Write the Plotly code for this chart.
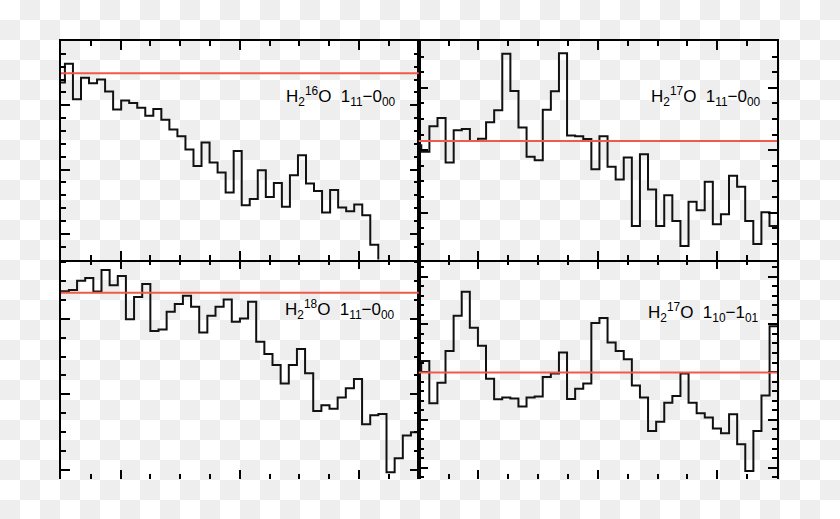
import numpy as np
import plotly.graph_objects as go
from plotly.subplots import make_subplots

# ---------------- data ----------------
# channel grids: first channel centre and channel width (km/s)
tl_v0, tl_dv = -30.019, 1.348
tr_v0, tr_dv = -30.242, 1.356
bl_v0, bl_dv = -30.722, 1.366
br_v0, br_dv = -30.259, 1.3567

# H2 16O 1_11-0_00 (top left)
tl_flux = [1.178, 1.323, 1.046, 1.214, 1.172, 1.201, 1.108, 0.968, 1.038, 1.017,
           0.981, 0.919, 0.971, 0.888, 0.811, 0.759, 0.655, 0.528, 0.710, 0.555,
           0.477, 0.322, 0.645, 0.223, 0.270, 0.495, 0.287, 0.396, 0.210, 0.456,
           0.611, 0.392, 0.332, 0.166, 0.340, 0.205, 0.176, 0.228, 0.145, -0.085,
           -0.35, -0.40, -0.38, -0.42, -0.45, -0.44]
# H2 17O 1_11-0_00 (top right)
tr_flux = [0.216, 0.195, 0.277, 0.303, 0.161, 0.264, 0.268, 0.230, 0.237, 0.290,
           0.328, 0.509, 0.390, 0.273, 0.179, 0.168, 0.330, 0.389, 0.511, 0.247,
           0.245, 0.236, 0.139, 0.245, 0.147, 0.106, 0.177, -0.043, 0.187, 0.074,
           -0.043, 0.056, -0.027, -0.107, 0.035, 0.008, 0.099, -0.037, -0.005, 0.118,
           0.083, -0.027, -0.100, 0.001, -0.043, -0.043]
# H2 18O 1_11-0_00 (bottom left)
bl_flux = [0.473, 0.473, 0.476, 0.501, 0.508, 0.472, 0.529, 0.489, 0.513, 0.399,
           0.458, 0.492, 0.368, 0.372, 0.419, 0.439, 0.461, 0.432, 0.364, 0.408,
           0.432, 0.451, 0.392, 0.401, 0.445, 0.339, 0.307, 0.278, 0.229, 0.278,
           0.320, 0.256, 0.156, 0.171, 0.162, 0.192, 0.216, 0.241, 0.121, 0.145,
           0.148, -0.006, 0.031, 0.091, 0.100, 0.100]
# H2 17O 1_10-1_01 (bottom right)
br_flux = [0.200, 0.223, 0.135, 0.178, 0.244, 0.318, 0.368, 0.293, 0.255, 0.186,
           0.143, 0.147, 0.145, 0.128, 0.147, 0.149, 0.190, 0.197, 0.241, 0.144,
           0.165, 0.176, 0.303, 0.313, 0.262, 0.244, 0.227, 0.172, 0.147, 0.077,
           0.096, 0.136, 0.150, 0.197, 0.136, 0.114, 0.105, 0.082, 0.072, 0.112,
           0.049, -0.007, 0.077, 0.151, 0.296, 0.296]

# continuum (red) levels, in panel order TL, TR, BL, BR
levels = [1.25, 0.23, 0.469, 0.199]

labels = [
    "H<sub>2</sub><sup>16</sup>O\u00a0\u00a01<sub>11</sub>\u22120<sub>00</sub>",
    "H<sub>2</sub><sup>17</sup>O\u00a0\u00a01<sub>11</sub>\u22120<sub>00</sub>",
    "H<sub>2</sub><sup>18</sup>O\u00a0\u00a01<sub>11</sub>\u22120<sub>00</sub>",
    "H<sub>2</sub><sup>17</sup>O\u00a0\u00a01<sub>10</sub>\u22121<sub>01</sub>",
]

x_range = [-30, 30]
y_ranges = [[-0.2, 1.5], [-0.15, 0.55], [-0.024, 0.557], [-0.0236, 0.4356]]
y_major = [0.5, 0.2, 0.2, 0.1]
y_minor = [0.1, 0.05, 0.05, 0.02]

# ---------------- figure ----------------
W, H = 840, 519
ML, MR, MT, MB = 61, 63, 41, 40
PW, PH = W - ML - MR, H - MT - MB
xsplit = (418.7 - ML) / PW
ysplit = (479 - 259.5) / PH

fig = make_subplots(rows=2, cols=2, horizontal_spacing=0, vertical_spacing=0)

panels = [(1, 1, tl_v0, tl_dv, tl_flux), (1, 2, tr_v0, tr_dv, tr_flux),
          (2, 1, bl_v0, bl_dv, bl_flux), (2, 2, br_v0, br_dv, br_flux)]

for i, (r, c, v0, dv, flux) in enumerate(panels):
    vel = v0 + dv * np.arange(len(flux))
    fig.add_trace(go.Scatter(x=vel, y=flux, mode="lines", line_shape="hvh",
                             line=dict(color="#111111", width=2),
                             showlegend=False, hoverinfo="skip"), row=r, col=c)

axis_ids = ["", "2", "3", "4"]
x_dom = [[0, xsplit], [xsplit, 1], [0, xsplit], [xsplit, 1]]
y_dom = [[ysplit, 1], [ysplit, 1], [0, ysplit], [0, ysplit]]

for i, aid in enumerate(axis_ids):
    bottom_row = i >= 2
    fig.layout["xaxis" + aid].update(
        domain=x_dom[i], range=x_range, showgrid=False, zeroline=False,
        showticklabels=False, ticks="inside", ticklen=9, tickwidth=1.5,
        tickcolor="black", tick0=0, dtick=20, mirror="allticks",
        showline=not bottom_row, linecolor="black", linewidth=2,
        minor=dict(ticks="inside", ticklen=5, tickwidth=1.5, tickcolor="black",
                   dtick=5, tick0=0, showgrid=False))
    fig.layout["yaxis" + aid].update(
        domain=y_dom[i], range=y_ranges[i], showgrid=False, zeroline=False,
        showticklabels=False, ticks="inside", ticklen=9, tickwidth=1.5,
        tickcolor="black", tick0=0, dtick=y_major[i], mirror="allticks",
        showline=True, linecolor="black", linewidth=2,
        minor=dict(ticks="inside", ticklen=5, tickwidth=1.5, tickcolor="black",
                   dtick=y_minor[i], tick0=0, showgrid=False))
    xr = "x" + aid
    yr = "y" + aid
    fig.add_shape(type="line", xref=xr + " domain", yref=yr, x0=0, x1=1,
                  y0=levels[i], y1=levels[i],
                  line=dict(color="#ef5a4a", width=2))

# label positions (fractions of each panel)
lab_x = [0.943, 0.960, 0.940, 0.955]
lab_y = [0.748, 0.748, 0.771, 0.759]
for i, aid in enumerate(axis_ids):
    fig.add_annotation(text=labels[i], xref="x" + aid + " domain",
                       yref="y" + aid + " domain", x=lab_x[i], y=lab_y[i],
                       xanchor="right", yanchor="middle", showarrow=False,
                       font=dict(family="Liberation Sans, Arial, sans-serif",
                                 size=17, color="black"))

# checkerboard backdrop of the reference image (one path shape, paper units)
CELL = 20
parts = []
for j in range(int(np.ceil(H / CELL))):
    for i in range(W // CELL):
        if (i + j) % 2 == 1:
            x0 = (i * CELL - ML) / PW
            x1 = ((i + 1) * CELL - ML) / PW
            y0 = 1 - (j * CELL - MT) / PH
            y1 = 1 - (min((j + 1) * CELL, H) - MT) / PH
            parts.append(f"M{x0:.5f},{y0:.5f}L{x1:.5f},{y0:.5f}"
                         f"L{x1:.5f},{y1:.5f}L{x0:.5f},{y1:.5f}Z")
fig.add_shape(type="path", xref="paper", yref="paper", path="".join(parts),
              fillcolor="#eeeeee", line=dict(width=0), layer="below")

fig.update_layout(width=W, height=H, margin=dict(l=ML, r=MR, t=MT, b=MB),
                  paper_bgcolor="white", plot_bgcolor="rgba(0,0,0,0)",
                  showlegend=False)

fig.write_html("out.html", config={"displayModeBar": False},
               post_script="document.body.style.margin='0px';"
                           "document.body.style.overflow='hidden';")
